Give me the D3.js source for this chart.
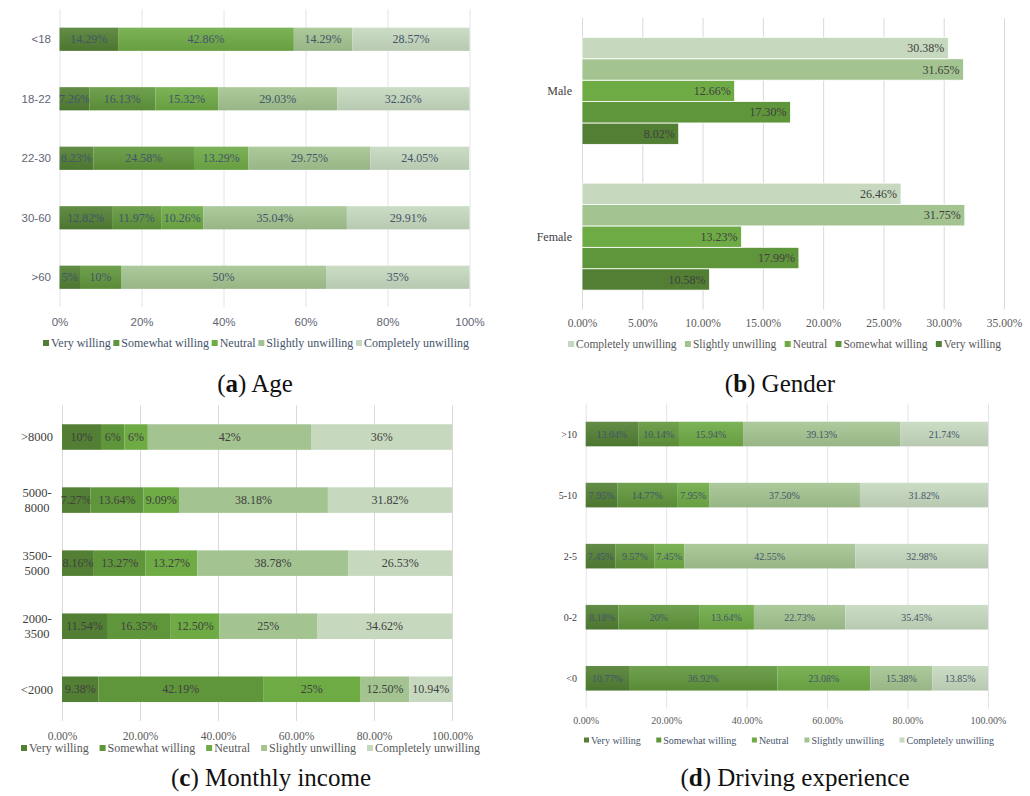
<!DOCTYPE html>
<html>
<head>
<meta charset="utf-8">
<script src="https://cdn.jsdelivr.net/npm/d3@7"></script>
<style>
  body { margin: 0; background: #fff; }
  svg { display: block; }
</style>
</head>
<body>
<svg id="chart" width="1030" height="796"></svg>
<script>
// Willingness scale, in stacking order (left to right)
const responses = ["Very willing", "Somewhat willing", "Neutral", "Slightly unwilling", "Completely unwilling"];
const responseColors = ["#527F33", "#60963B", "#6EAB45", "#A3C490", "#C6D9BE"];

// (a) Age — shares (%) per group, in response order
const ageGroups = ["<18", "18-22", "22-30", "30-60", ">60"];
const ageShares = [
  [14.29, 0, 42.86, 14.29, 28.57],
  [7.26, 16.13, 15.32, 29.03, 32.26],
  [8.23, 24.58, 13.29, 29.75, 24.05],
  [12.82, 11.97, 10.26, 35.04, 29.91],
  [5, 10, 0, 50, 35]
];
const ageTicks = [0, 20, 40, 60, 80, 100];

// (b) Gender — shares (%) per gender, in response order
const genders = ["Male", "Female"];
const genderShares = [
  [8.02, 17.30, 12.66, 31.65, 30.38],
  [10.58, 17.99, 13.23, 31.75, 26.46]
];
const genderTicks = [0, 5, 10, 15, 20, 25, 30, 35];

// (c) Monthly income
const incomeGroups = [">8000", "5000-\n8000", "3500-\n5000", "2000-\n3500", "<2000"];
const incomeShares = [
  [10, 6, 6, 42, 36],
  [7.27, 13.64, 9.09, 38.18, 31.82],
  [8.16, 13.27, 13.27, 38.78, 26.53],
  [11.54, 16.35, 12.50, 25, 34.62],
  [9.38, 42.19, 25, 12.50, 10.94]
];
const incomeTicks = [0, 20, 40, 60, 80, 100];

// (d) Driving experience (years)
const drivingGroups = [">10", "5-10", "2-5", "0-2", "<0"];
const drivingShares = [
  [13.04, 10.14, 15.94, 39.13, 21.74],
  [7.95, 14.77, 7.95, 37.50, 31.82],
  [7.45, 9.57, 7.45, 42.55, 32.98],
  [8.18, 20, 13.64, 22.73, 35.45],
  [10.77, 36.92, 23.08, 15.38, 13.85]
];
const drivingTicks = [0, 20, 40, 60, 80, 100];

const SERIF = "'Liberation Serif', 'Times New Roman', serif";
const SANS = "'Liberation Sans', Arial, sans-serif";

const svg = d3.select("#chart");
const defs = svg.append("defs");

// soft vertical shading used by the stacked bars of (a) and (d)
responseColors.forEach((c, i) => {
  const g = defs.append("linearGradient")
    .attr("id", "shade-" + i).attr("x1", 0).attr("y1", 0).attr("x2", 0).attr("y2", 1);
  g.append("stop").attr("offset", "0%").attr("stop-color", d3.interpolateRgb(c, "#ffffff")(0.10));
  g.append("stop").attr("offset", "100%").attr("stop-color", d3.color(c).darker(0.22).formatHex());
});

const pct = v => Number.isInteger(v) ? v + "%" : v.toFixed(2) + "%";

function drawGrid(g, x, ticks, yTop, yBottom, tickY, fmt, o) {
  const axis = g.append("g")
    .attr("transform", `translate(0,${yBottom})`)
    .call(d3.axisBottom(x).tickValues(ticks).tickSize(-(yBottom - yTop)).tickFormat(fmt));
  axis.select(".domain").remove();
  axis.selectAll("line").attr("stroke", o.gridColor).attr("stroke-width", 1);
  axis.selectAll("text")
    .attr("y", tickY - yBottom).attr("dy", "0.35em")
    .attr("fill", o.tickColor).style("font-family", o.tickFont).style("font-size", o.tickSize + "px");
}

function drawLegend(order, x0, x1, y, o) {
  const g = svg.append("g");
  const items = order.map(i => {
    const it = g.append("g");
    it.append("rect").attr("width", o.swatch).attr("height", o.swatch)
      .attr("y", y - o.swatch / 2).attr("fill", responseColors[i]);
    const t = it.append("text").attr("x", o.swatch + 2).attr("y", y).attr("dy", "0.35em")
      .attr("fill", o.color).style("font-family", SERIF).style("font-size", o.size + "px")
      .text(responses[i]);
    return { node: it, w: o.swatch + 2 + t.node().getComputedTextLength() };
  });
  const total = d3.sum(items, d => d.w);
  const gap = (x1 - x0 - total) / (items.length - 1);
  let cx = x0;
  items.forEach(d => { d.node.attr("transform", `translate(${cx},0)`); cx += d.w + gap; });
}

function drawCaption(cx, cy, letter, title) {
  const t = svg.append("text").attr("x", cx).attr("y", cy).attr("dy", "0.35em")
    .attr("text-anchor", "middle").attr("fill", "#111")
    .style("font-family", SERIF).style("font-size", "25px");
  t.append("tspan").text("(");
  t.append("tspan").attr("font-weight", "bold").text(letter);
  t.append("tspan").text(") " + title);
}

function drawStacked(cats, rows, ticks, o) {
  const g = svg.append("g");
  const x = d3.scaleLinear().domain([0, 100]).range(o.xRange);
  const y = d3.scaleBand().domain(cats).range(o.yRange).paddingInner(o.pad).paddingOuter(o.pad / 2);

  drawGrid(g, x, ticks, o.yRange[0], o.yRange[1], o.tickY, o.tickFmt, o);

  const table = rows.map((r, i) => {
    const row = { cat: cats[i] };
    responses.forEach((s, j) => { row[s] = r[j]; });
    return row;
  });
  const layers = d3.stack().keys(responses)(table);

  layers.forEach((layer, si) => {
    const lg = g.append("g");
    lg.selectAll("rect").data(layer).join("rect")
      .attr("x", d => x(d[0])).attr("width", d => x(d[1]) - x(d[0]))
      .attr("y", d => y(d.data.cat)).attr("height", y.bandwidth())
      .attr("fill", o.shade ? `url(#shade-${si})` : responseColors[si]);
    lg.selectAll("text").data(layer.filter(d => d[1] - d[0] > 0)).join("text")
      .attr("x", d => (x(d[0]) + x(d[1])) / 2)
      .attr("y", d => y(d.data.cat) + y.bandwidth() / 2).attr("dy", "0.35em")
      .attr("text-anchor", "middle").attr("fill", o.labelColor)
      .style("font-family", SERIF).style("font-size", o.labelSize + "px")
      .text(d => pct(d.data[layer.key]));
  });

  // category labels
  cats.forEach(c => {
    const lines = c.split("\n");
    const cy = y(c) + y.bandwidth() / 2;
    const t = g.append("text").attr("x", o.catX).attr("text-anchor", o.catAnchor)
      .attr("fill", o.catColor).style("font-family", o.catFont).style("font-size", o.catSize + "px");
    lines.forEach((ln, k) => {
      t.append("tspan").attr("x", o.catX)
        .attr("y", cy + (k - (lines.length - 1) / 2) * o.lineH).attr("dy", "0.35em").text(ln);
    });
  });
}

// (a) Age
drawStacked(ageGroups, ageShares, ageTicks, {
  xRange: [59.5, 469.5], yRange: [9.5, 307], pad: 0.61, tickY: 322,
  tickFmt: d => d + "%", gridColor: "#E1E4EA", tickColor: "#5F6675", tickFont: SANS, tickSize: 11.5,
  labelColor: "#44546A", labelSize: 12, shade: true,
  catX: 51, catAnchor: "end", catFont: SANS, catSize: 11.5, catColor: "#5F6675", lineH: 14
});
drawLegend([0, 1, 2, 3, 4], 43, 469, 343, { swatch: 6, size: 12, color: "#44546A" });
drawCaption(255, 383, "a", "Age");

// (b) Gender — grouped bars, Completely unwilling on top
(function () {
  const g = svg.append("g");
  const xR = [582, 1004], yR = [18, 309.5];
  const x = d3.scaleLinear().domain([0, 35]).range(xR);
  const y = d3.scaleBand().domain(genders).range(yR).paddingInner(0.266).paddingOuter(0.133);
  const inner = d3.scaleBand().domain([4, 3, 2, 1, 0]).range([0, y.bandwidth()]);

  drawGrid(g, x, genderTicks, yR[0], yR[1], 323, d => d.toFixed(2) + "%",
    { gridColor: "#D9D9D9", tickColor: "#595959", tickFont: SERIF, tickSize: 11.5 });

  genders.forEach((gender, gi) => {
    const vals = genderShares[gi].map((v, si) => ({ v, si }));
    const gg = g.append("g").attr("transform", `translate(0,${y(gender)})`);
    gg.selectAll("rect").data(vals).join("rect")
      .attr("x", x(0)).attr("width", d => x(d.v) - x(0))
      .attr("y", d => inner(d.si)).attr("height", inner.bandwidth())
      .attr("fill", d => responseColors[d.si]).attr("stroke", "#fff").attr("stroke-width", 0.8);
    gg.selectAll("text").data(vals).join("text")
      .attr("x", d => x(d.v) - 4).attr("y", d => inner(d.si) + inner.bandwidth() / 2).attr("dy", "0.35em")
      .attr("text-anchor", "end").attr("fill", "#404040")
      .style("font-family", SERIF).style("font-size", "12px")
      .text(d => pct(d.v));
    g.append("text").attr("x", 572).attr("y", y(gender) + y.bandwidth() / 2).attr("dy", "0.35em")
      .attr("text-anchor", "end").attr("fill", "#404040")
      .style("font-family", SERIF).style("font-size", "12px").text(gender);
  });
})();
drawLegend([4, 3, 2, 1, 0], 568, 1001, 344, { swatch: 6, size: 11.5, color: "#595959" });
drawCaption(780, 383, "b", "Gender");

// (c) Monthly income
drawStacked(incomeGroups, incomeShares, incomeTicks, {
  xRange: [62, 452], yRange: [405.5, 720.8], pad: 0.595, tickY: 736,
  tickFmt: d => d.toFixed(2) + "%", gridColor: "#D9D9D9", tickColor: "#595959", tickFont: SERIF, tickSize: 11.5,
  labelColor: "#404040", labelSize: 12, shade: false,
  catX: 37, catAnchor: "middle", catFont: SERIF, catSize: 12.5, catColor: "#404040", lineH: 14.5
});
drawLegend([0, 1, 2, 3, 4], 21, 480, 748, { swatch: 6, size: 12, color: "#595959" });
drawCaption(271, 777, "c", "Monthly income");

// (d) Driving experience
drawStacked(drivingGroups, drivingShares, drivingTicks, {
  xRange: [585.7, 988], yRange: [403.5, 708.8], pad: 0.597, tickY: 721,
  tickFmt: d => d.toFixed(2) + "%", gridColor: "#E1E4EA", tickColor: "#595959", tickFont: SERIF, tickSize: 10,
  labelColor: "#44546A", labelSize: 10, shade: true,
  catX: 577, catAnchor: "end", catFont: SERIF, catSize: 10, catColor: "#404040", lineH: 12
});
drawLegend([0, 1, 2, 3, 4], 584, 994, 740, { swatch: 5, size: 10, color: "#44546A" });
drawCaption(795, 777, "d", "Driving experience");
</script>
</body>
</html>
